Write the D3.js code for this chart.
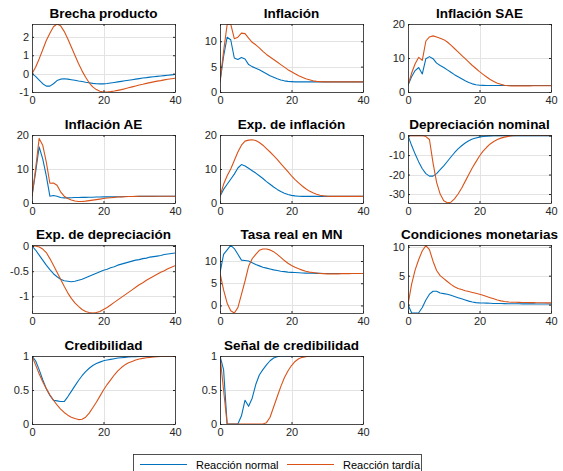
<!DOCTYPE html>
<html>
<head>
<meta charset="utf-8">
<script src="https://cdn.jsdelivr.net/npm/d3@7"></script>
<style>
  body { margin: 0; background: #fff; }
  svg { display: block; font-family: "Liberation Sans", Arial, Helvetica, sans-serif; }
  .tick text { fill: #262626; font-size: 11px; }
  .tick line { stroke: #262626; }
  .domain { display: none; }
</style>
</head>
<body>
<svg id="chart" width="563" height="471" viewBox="0 0 563 471"></svg>
<script>
'use strict';

// periods 0..40
var periods = d3.range(0, 41);

var titles = ['Brecha producto', 'Inflación', 'Inflación SAE', 'Inflación AE', 'Exp. de inflación',
  'Depreciación nominal', 'Exp. de depreciación', 'Tasa real en MN', 'Condiciones monetarias',
  'Credibilidad', 'Señal de credibilidad'];
var seriesNames = ['Reacción normal', 'Reacción tardía'];
var xTicks = [0, 20, 40];
var yTicks = [[-1, 0, 1, 2], [0, 5, 10], [0, 10, 20], [0, 10, 20], [0, 10, 20], [-30, -20, -10, 0],
  [-1, -0.5, 0], [0, 5, 10], [0, 5, 10], [0, 0.5, 1], [0, 0.5, 1]];
var yLimits = [[-1, 2.7], [0, 13.4], [0, 20], [0, 20], [0, 20], [-34.6, 0.3],
  [-1.33, 0.02], [-1.7, 13.6], [-1.45, 10.3], [0, 1], [0, 1]];

var brechaNormal = [0, -0.15, -0.35, -0.55, -0.68, -0.68, -0.55, -0.38, -0.3, -0.28, -0.3, -0.33, -0.36, -0.4, -0.43, -0.47, -0.5, -0.53, -0.55, -0.56, -0.56, -0.54, -0.51, -0.48, -0.45, -0.42, -0.39, -0.36, -0.33, -0.3, -0.27, -0.24, -0.22, -0.19, -0.17, -0.15, -0.13, -0.11, -0.09, -0.07, -0.05];
var brechaTardia = [0, 0.35, 0.8, 1.3, 1.8, 2.2, 2.55, 2.7, 2.6, 2.3, 1.9, 1.45, 1.0, 0.55, 0.15, -0.2, -0.5, -0.72, -0.87, -0.96, -1.0, -1.0, -0.98, -0.95, -0.91, -0.87, -0.82, -0.77, -0.72, -0.67, -0.62, -0.58, -0.53, -0.49, -0.45, -0.41, -0.38, -0.34, -0.31, -0.28, -0.25];

var inflNormal = [2, 7, 10.8, 10.3, 6.7, 6.4, 6.8, 6.5, 5.4, 5.0, 4.7, 4.4, 4.0, 3.6, 3.2, 2.9, 2.6, 2.35, 2.2, 2.1, 2.05, 2.0, 2.0, 2.0, 2.0, 2.0, 2.0, 2.0, 2.0, 2.0, 2.0, 2.0, 2.0, 2.0, 2.0, 2.0, 2.0, 2.0, 2.0, 2.0, 2.0];
var inflTardia = [2, 8, 13.3, 13.4, 10.5, 10.8, 11.6, 11.5, 10.6, 9.8, 9.3, 8.7, 8.0, 7.4, 6.9, 6.4, 5.9, 5.4, 4.9, 4.4, 4.0, 3.6, 3.2, 2.9, 2.6, 2.4, 2.2, 2.1, 2.05, 2.0, 2.0, 2.0, 2.0, 2.0, 2.0, 2.0, 2.0, 2.0, 2.0, 2.0, 2.0];

var saeNormal = [2, 4.5, 6.3, 7.2, 5.3, 9.8, 10.4, 9.8, 8.5, 7.8, 7.2, 6.5, 5.8, 5.1, 4.5, 3.9, 3.3, 2.8, 2.4, 2.15, 2.0, 1.95, 1.9, 1.9, 1.9, 1.9, 1.9, 1.9, 1.9, 1.9, 1.9, 1.9, 1.9, 1.9, 1.9, 1.9, 1.9, 1.9, 1.9, 1.9, 1.9];
var saeTardia = [2, 5.5, 8.3, 10.2, 9.3, 15, 16.2, 16.5, 16.2, 15.8, 15.4, 14.7, 13.8, 12.8, 11.8, 10.8, 9.8, 8.8, 7.8, 6.9, 6.0, 5.2, 4.4, 3.7, 3.1, 2.6, 2.25, 2.0, 1.85, 1.8, 1.8, 1.8, 1.8, 1.8, 1.8, 1.85, 1.85, 1.85, 1.85, 1.85, 1.85];

var aeNormal = [2, 9, 16.5, 13, 8, 2.0, 2.2, 2.0, 1.6, 1.5, 1.5, 1.55, 1.6, 1.6, 1.65, 1.65, 1.7, 1.7, 1.75, 1.75, 1.8, 1.8, 1.8, 1.85, 1.85, 1.85, 1.9, 1.9, 1.9, 1.9, 1.95, 1.95, 1.95, 1.95, 1.95, 2.0, 2.0, 2.0, 2.0, 2.0, 2.0];
var aeTardia = [2, 10, 19, 17, 12, 5.8, 5.9, 5.2, 3.3, 2.0, 1.3, 0.9, 0.6, 0.45, 0.45, 0.55, 0.7, 0.85, 1.0, 1.15, 1.3, 1.45, 1.55, 1.65, 1.75, 1.8, 1.85, 1.9, 1.93, 1.95, 1.97, 1.98, 1.99, 2.0, 2.0, 2.0, 2.0, 2.0, 2.0, 2.0, 2.0];

var expInflNormal = [2, 4, 5.5, 7, 8.5, 10.3, 11.3, 10.9, 10.2, 9.5, 8.8, 8.0, 7.2, 6.3, 5.5, 4.7, 4.0, 3.4, 2.9, 2.5, 2.25, 2.1, 2.0, 1.95, 1.95, 1.95, 1.95, 1.95, 1.95, 1.95, 1.95, 1.95, 1.95, 1.95, 1.95, 1.95, 1.95, 1.95, 1.95, 1.95, 1.95];
var expInflTardia = [2, 5.5, 8, 10, 12.5, 15, 17, 18.2, 18.5, 18.6, 18.4, 17.8, 17, 16, 15, 13.9, 12.8, 11.6, 10.4, 9.2, 8.0, 6.9, 5.9, 5.0, 4.2, 3.5, 3.0, 2.6, 2.3, 2.1, 2.0, 1.95, 1.95, 1.95, 1.95, 1.95, 1.95, 1.95, 1.95, 1.95, 1.95];

var deprNormal = [0, -5, -9.5, -13.5, -17, -19.5, -20.8, -20.8, -19.5, -17.5, -15.5, -13.3, -11, -8.8, -6.8, -5.2, -3.8, -2.7, -1.8, -1.2, -0.8, -0.5, -0.3, -0.15, -0.05, 0, 0, 0, 0, 0, 0, 0, 0, 0, 0, 0, 0, 0, 0, 0, 0];
var deprTardia = [0, 0, 0, 0, 0, -0.5, -2, -14, -24, -30, -33.5, -34.5, -34.2, -32.5, -30, -27, -23.5, -20, -16.5, -13.5, -10.5, -8, -6, -4.3, -3, -2, -1.3, -0.8, -0.4, -0.1, 0.1, 0.2, 0.25, 0.25, 0.25, 0.2, 0.2, 0.2, 0.2, 0.2, 0.2];

var expDeprNormal = [0, -0.08, -0.18, -0.28, -0.38, -0.47, -0.55, -0.61, -0.66, -0.69, -0.7, -0.71, -0.7, -0.68, -0.66, -0.63, -0.6, -0.57, -0.54, -0.51, -0.48, -0.46, -0.43, -0.41, -0.38, -0.36, -0.34, -0.32, -0.3, -0.28, -0.27, -0.25, -0.24, -0.22, -0.21, -0.2, -0.19, -0.17, -0.16, -0.15, -0.14];
var expDeprTardia = [0, 0, -0.02, -0.06, -0.13, -0.25, -0.38, -0.52, -0.66, -0.8, -0.93, -1.04, -1.13, -1.2, -1.26, -1.3, -1.32, -1.33, -1.32, -1.3, -1.26, -1.22, -1.17, -1.12, -1.07, -1.02, -0.97, -0.92, -0.87, -0.82, -0.77, -0.73, -0.68, -0.64, -0.6, -0.56, -0.52, -0.49, -0.45, -0.42, -0.39];

var tasaNormal = [7.3, 11.5, 12.5, 13.5, 12.8, 11.5, 10.2, 10.1, 10, 9.6, 9.2, 8.9, 8.6, 8.4, 8.2, 8.0, 7.85, 7.7, 7.6, 7.5, 7.45, 7.4, 7.35, 7.3, 7.28, 7.25, 7.23, 7.22, 7.21, 7.2, 7.2, 7.2, 7.2, 7.2, 7.2, 7.2, 7.2, 7.2, 7.2, 7.2, 7.2];
var tasaTardia = [7.3, 3.5, 0.5, -1.2, -1.7, -0.5, 2.5, 5.5, 8.8, 10.5, 11.5, 12.4, 12.7, 12.7, 12.5, 12.1, 11.5, 10.8, 10.1, 9.5, 9.0, 8.6, 8.25, 7.95, 7.7, 7.5, 7.4, 7.3, 7.2, 7.15, 7.1, 7.1, 7.1, 7.1, 7.15, 7.15, 7.15, 7.2, 7.2, 7.2, 7.2];

var icmNormal = [0, -1.4, -1.45, -1.4, -0.5, 0.8, 1.8, 2.3, 2.3, 2.0, 1.9, 1.8, 1.6, 1.4, 1.2, 1.0, 0.8, 0.6, 0.45, 0.35, 0.3, 0.28, 0.25, 0.23, 0.2, 0.2, 0.18, 0.17, 0.16, 0.15, 0.15, 0.14, 0.13, 0.13, 0.12, 0.12, 0.11, 0.11, 0.1, 0.1, 0.1];
var icmTardia = [0, 3.5, 6, 7.8, 9.3, 10.2, 9.5, 7.5, 5.9, 5.0, 4.5, 4.0, 3.5, 3.1, 2.8, 2.6, 2.4, 2.25, 2.1, 1.95, 1.8, 1.6, 1.4, 1.2, 1.0, 0.8, 0.65, 0.55, 0.47, 0.42, 0.4, 0.38, 0.37, 0.36, 0.35, 0.34, 0.33, 0.32, 0.31, 0.3, 0.3];

var credNormal = [1, 0.93, 0.8, 0.65, 0.52, 0.42, 0.35, 0.34, 0.33, 0.33, 0.4, 0.48, 0.56, 0.64, 0.71, 0.77, 0.82, 0.86, 0.89, 0.91, 0.93, 0.94, 0.95, 0.96, 0.97, 0.975, 0.98, 0.985, 0.988, 0.99, 0.992, 0.994, 0.995, 0.996, 0.997, 0.998, 0.998, 0.999, 0.999, 1, 1];
var credTardia = [1, 0.87, 0.74, 0.62, 0.52, 0.43, 0.35, 0.28, 0.22, 0.17, 0.13, 0.1, 0.08, 0.065, 0.07, 0.1, 0.16, 0.24, 0.32, 0.41, 0.5, 0.58, 0.65, 0.72, 0.78, 0.83, 0.87, 0.9, 0.92, 0.94, 0.955, 0.965, 0.975, 0.98, 0.985, 0.99, 0.993, 0.995, 0.997, 0.998, 1];

var senalNormal = [1, 0.8, 0, 0, 0, 0, 0.12, 0.35, 0.26, 0.38, 0.58, 0.72, 0.8, 0.87, 0.93, 0.97, 0.99, 1, 1, 1, 1, 1, 1, 1, 1, 1, 1, 1, 1, 1, 1, 1, 1, 1, 1, 1, 1, 1, 1, 1, 1];
var senalTardia = [1, 0.5, 0, 0, 0, 0, 0, 0, 0, 0, 0, 0, 0, 0.02, 0.1, 0.25, 0.4, 0.55, 0.68, 0.78, 0.86, 0.92, 0.96, 0.98, 0.99, 1, 1, 1, 1, 1, 1, 1, 1, 1, 1, 1, 1, 1, 1, 1, 1];

var normalSeries = [brechaNormal, inflNormal, saeNormal, aeNormal, expInflNormal, deprNormal,
  expDeprNormal, tasaNormal, icmNormal, credNormal, senalNormal];
var tardiaSeries = [brechaTardia, inflTardia, saeTardia, aeTardia, expInflTardia, deprTardia,
  expDeprTardia, tasaTardia, icmTardia, credTardia, senalTardia];

var colors = ['#0072BD', '#D95319'];

var svg = d3.select('#chart');
var colLeft = [32, 220, 408];
var rowTop = [24, 135, 245, 356];
var w = 143;
var h = 68;

titles.forEach(function (title, i) {
  var g = svg.append('g')
    .attr('transform', 'translate(' + colLeft[i % 3] + ',' + rowTop[Math.floor(i / 3)] + ')');

  var x = d3.scaleLinear().domain([0, 40]).range([0, w]);
  var y = d3.scaleLinear().domain(yLimits[i]).range([h, 0]);

  g.append('defs').append('clipPath').attr('id', 'clip' + i)
    .append('rect').attr('width', w).attr('height', h);

  // grid
  var grid = g.append('g').attr('stroke', '#e3e3e3').attr('stroke-width', 1);
  grid.selectAll('.gx').data(xTicks).enter().append('line')
    .attr('x1', function (d) { return Math.round(x(d)) + 0.5; })
    .attr('x2', function (d) { return Math.round(x(d)) + 0.5; })
    .attr('y1', 0).attr('y2', h);
  grid.selectAll('.gy').data(yTicks[i]).enter().append('line')
    .attr('y1', function (d) { return Math.round(y(d)) + 0.5; })
    .attr('y2', function (d) { return Math.round(y(d)) + 0.5; })
    .attr('x1', 0).attr('x2', w);

  var line = d3.line()
    .x(function (d, k) { return x(periods[k]); })
    .y(function (d) { return y(d); });

  var plot = g.append('g').attr('clip-path', 'url(#clip' + i + ')').attr('fill', 'none');
  [normalSeries[i], tardiaSeries[i]].forEach(function (s, k) {
    plot.append('path').datum(s)
      .attr('stroke', colors[k]).attr('stroke-width', 1.1)
      .attr('stroke-linejoin', 'round')
      .attr('d', line);
  });

  var fmt = function (d) { return String(d); };

  g.append('g').attr('transform', 'translate(0,' + h + ')')
    .call(d3.axisBottom(x).tickValues(xTicks).tickSize(-2).tickPadding(4).tickFormat(fmt));
  g.append('g')
    .call(d3.axisLeft(y).tickValues(yTicks[i]).tickSize(-2).tickPadding(3).tickFormat(fmt));
  g.append('g')
    .call(d3.axisTop(x).tickValues(xTicks).tickSize(-2).tickFormat(''));
  g.append('g').attr('transform', 'translate(' + w + ',0)')
    .call(d3.axisRight(y).tickValues(yTicks[i]).tickSize(-2).tickFormat(''));

  g.selectAll('.tick text').attr('font-family', null).attr('font-size', null);

  g.append('rect').attr('x', 0.5).attr('y', 0.5).attr('width', w).attr('height', h)
    .attr('fill', 'none').attr('stroke', '#262626').attr('stroke-width', 0.8);

  g.append('text').attr('x', w / 2).attr('y', -6)
    .attr('text-anchor', 'middle').attr('font-weight', 'bold').attr('font-size', 13.5)
    .attr('fill', '#000').text(title);
});

// legend
var lg = svg.append('g').attr('transform', 'translate(133,454)');
lg.append('rect').attr('x', 0.5).attr('y', 0.5).attr('width', 288).attr('height', 20)
  .attr('fill', '#fff').attr('stroke', '#262626').attr('stroke-width', 0.8);
var legX = [7, 154];
seriesNames.forEach(function (name, k) {
  lg.append('line').attr('x1', legX[k]).attr('x2', legX[k] + 47).attr('y1', 10.5).attr('y2', 10.5)
    .attr('stroke', colors[k]).attr('stroke-width', 1.1);
  lg.append('text').attr('x', legX[k] + 56).attr('y', 14.5).attr('font-size', 11)
    .attr('fill', '#000').text(name);
});
</script>
</body>
</html>
